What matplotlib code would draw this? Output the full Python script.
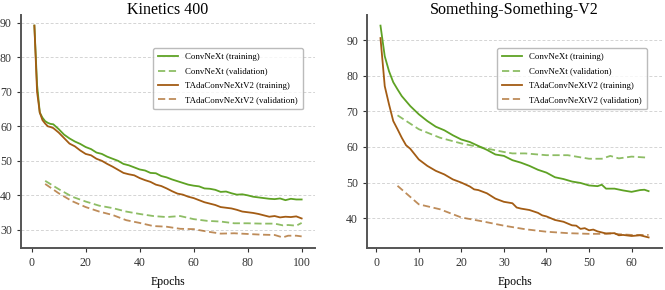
import matplotlib
matplotlib.use("Agg")
import matplotlib.pyplot as plt

plt.rcParams['font.family'] = ['Liberation Serif', 'DejaVu Serif']

# Kinetics 400
k_train_ep = [1, 2, 3, 4, 5, 6, 7, 8, 10, 12, 14, 16, 18, 20, 22, 24, 26, 28, 30,
              32, 34, 36, 38, 40, 42, 44, 46, 48, 50, 52, 54, 56, 58, 60, 62, 64,
              66, 68, 70, 72, 74, 76, 78, 80, 82, 84, 86, 88, 90, 92, 94, 96, 98, 100]
k_cn_train = [89.2, 72, 64, 62.5, 61.5, 61, 60.7, 60.6, 59.2, 57.6, 56.5, 55.6, 54.9,
              54.0, 53.4, 52.4, 52.0, 51.2, 50.6, 50.0, 49.1, 48.7, 48.1, 47.5, 47.2,
              46.5, 46.4, 45.6, 45.2, 44.6, 44.1, 43.6, 43.1, 42.8, 42.6, 42.0, 41.9,
              41.6, 41.0, 41.1, 40.6, 40.2, 40.3, 40.0, 39.6, 39.4, 39.2, 39.0, 38.9,
              39.1, 38.6, 39.0, 38.8, 38.8]
k_tada_train = [89.2, 70, 64, 61.8, 60.8, 60.0, 59.8, 59.5, 58.2, 56.6, 55.0, 54.2,
                53.0, 52.0, 51.6, 50.6, 50.0, 49.1, 48.3, 47.4, 46.5, 46.1, 45.8, 45.0,
                44.4, 43.9, 43.1, 42.7, 42.0, 41.2, 40.5, 40.2, 39.6, 39.2, 38.6, 38.0,
                37.6, 37.2, 36.6, 36.4, 36.2, 35.8, 35.3, 35.1, 34.9, 34.6, 34.2, 33.8,
                34.0, 33.6, 33.8, 33.7, 33.9, 33.3]
k_val_ep = [5, 10, 15, 20, 25, 30, 35, 40, 45, 50, 55, 60, 65, 70, 75, 80, 85, 90,
            93, 95, 98, 100]
k_cn_val = [44.2, 41.8, 39.6, 38.2, 37.0, 36.3, 35.3, 34.6, 34.0, 33.7, 34.0, 33.1,
            32.6, 32.4, 31.9, 31.9, 31.8, 31.8, 31.3, 31.4, 31.2, 32.0]
k_tada_val = [43.3, 40.6, 38.3, 36.6, 35.3, 34.3, 32.8, 32.0, 31.1, 30.9, 30.3, 30.2,
              29.5, 28.9, 29.0, 28.8, 28.6, 28.5, 27.8, 28.3, 28.3, 28.1]

# Something-Something-V2
s_cn_ep = [1, 2, 3, 4, 5, 6, 8, 10, 12, 14, 16, 18, 20, 22, 24, 26, 28, 30, 32, 34,
           36, 38, 40, 42, 44, 46, 48, 50, 52, 53, 54, 56, 58, 60, 62, 63, 64]
s_cn_train = [94.1, 85.5, 81.3, 78.2, 76.2, 74.3, 71.5, 69.2, 67.3, 65.7, 64.7, 63.3,
              62.1, 61.4, 60.3, 59.2, 57.9, 57.5, 56.3, 55.6, 54.7, 53.6, 52.8, 51.5,
              51.0, 50.3, 49.9, 49.2, 49.0, 49.4, 48.3, 48.3, 47.8, 47.4, 47.9, 48.0,
              47.6]
s_tada_ep = [1, 2, 3, 4, 5, 6, 7, 8, 10, 12, 14, 16, 18, 20, 22, 23, 24, 26, 28, 30,
             32, 33, 34, 36, 38, 39, 40, 42, 44, 46, 47, 48, 49, 50, 51, 52, 54, 56,
             57, 58, 60, 62, 64]
s_tada_train = [90.6, 77.1, 72.0, 67.3, 65.0, 62.6, 60.5, 59.5, 56.5, 54.7, 53.3,
                52.3, 50.9, 50.0, 48.9, 48.1, 47.9, 47.0, 45.5, 44.6, 44.2, 43.0, 42.7,
                42.3, 41.5, 40.8, 40.5, 39.5, 39.0, 38.0, 37.9, 37.0, 37.2, 36.6, 36.8,
                36.3, 35.7, 35.8, 35.2, 35.3, 35.0, 35.2, 34.6]
s_val_ep = [5, 10, 15, 20, 25, 30, 32, 35, 40, 45, 50, 53, 55, 57, 60, 64]
s_cn_val = [68.9, 65.0, 62.6, 61.0, 59.8, 58.6, 58.2, 58.2, 57.7, 57.7, 56.7, 56.7,
            57.5, 56.8, 57.3, 57.0]
s_tada_val = [49.1, 43.9, 42.5, 40.2, 39.1, 37.9, 37.5, 36.9, 36.2, 35.8, 35.6, 35.6,
              35.7, 35.5, 35.3, 35.3]

labels = ["ConvNeXt (training)", "ConvNeXt (validation)",
          "TAdaConvNeXtV2 (training)", "TAdaConvNeXtV2 (validation)"]
green = '#5ea224'
brown = '#a35c14'

fig = plt.figure(figsize=(6.65, 2.9), dpi=100)
ax1 = fig.add_axes([0.0316, 0.1448, 0.4421, 0.8034])
ax2 = fig.add_axes([0.552, 0.1448, 0.4435, 0.8034])

panels = [
    (ax1, "Kinetics 400", k_train_ep, k_cn_train, k_val_ep, k_cn_val,
     k_train_ep, k_tada_train, k_tada_val, 0.959),
    (ax2, "Something-Something-V2", s_cn_ep, s_cn_train, s_val_ep, s_cn_val,
     s_tada_ep, s_tada_train, s_tada_val, 0.949),
]

for ax, title, ep1, cn_tr, vep, cn_val, ep2, td_tr, td_val, lx in panels:
    ax.plot(ep1, cn_tr, color=green, lw=1.3, label=labels[0])
    ax.plot(vep, cn_val, color=green, lw=1.3, ls=(0, (4, 2)), alpha=0.7, label=labels[1])
    ax.plot(ep2, td_tr, color=brown, lw=1.3, label=labels[2])
    ax.plot(vep, td_val, color=brown, lw=1.3, ls=(0, (4, 2)), alpha=0.7, label=labels[3])

    # explicit y turns off the automatic title placement
    ax.set_title(title, fontsize=11.5, y=1.0, pad=0.5)
    ax.set_xlabel("Epochs", fontsize=8.5, labelpad=5)
    ax.grid(axis='y', ls=(0, (3, 2)), color='#d4d4d4', lw=0.7)
    ax.set_axisbelow(True)
    for s in ['top', 'right']:
        ax.spines[s].set_visible(False)
    for s in ['left', 'bottom']:
        ax.spines[s].set_color('#555555')
        ax.spines[s].set_linewidth(1.4)
    ax.tick_params(labelsize=8.5, colors='#333333', length=3, width=0.8)
    ax.legend(loc='upper right', bbox_to_anchor=(lx, 0.858), borderaxespad=0,
              fontsize=6.4, frameon=True, edgecolor='#aaaaaa', fancybox=True,
              handlelength=2.3, labelspacing=0.7, borderpad=0.55)

ax2.set_yticks([40, 50, 60, 70, 80, 90])

fig.savefig("out.png", dpi=100)
